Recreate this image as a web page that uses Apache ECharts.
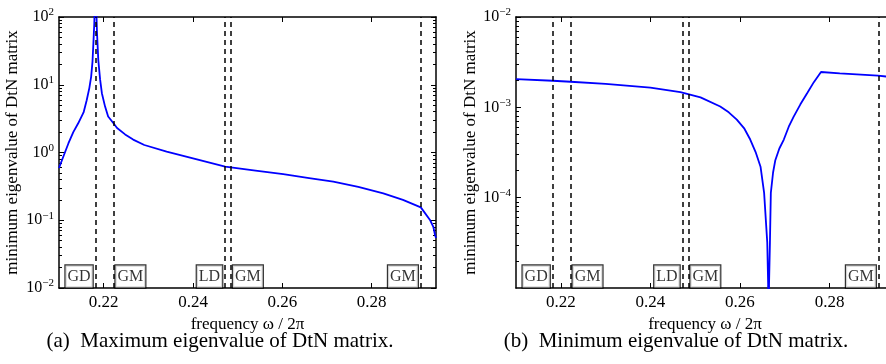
<!DOCTYPE html>
<html lang="en">
<head>
    <meta charset="UTF-8">
    <title>DtN matrix eigenvalues</title>
    <script src="https://cdn.jsdelivr.net/npm/echarts@6/dist/echarts.min.js"></script>
    <style>
        body { margin: 0; background: #fff; }
        #chart { width: 886px; height: 364px; }
    </style>
</head>
<body>
<div id="chart"></div>
<script>
    // (a) maximum eigenvalue
    var freqMax = [0.2100, 0.2110, 0.2121, 0.2132, 0.2143, 0.2155, 0.2162, 0.2168, 0.2172, 0.2175, 0.2177, 0.2179,
        0.21815, 0.2185, 0.2188, 0.2192, 0.2196, 0.2203, 0.2210, 0.2222, 0.2230, 0.2248, 0.2266, 0.2291, 0.2341, 0.2400,
        0.2472, 0.2540, 0.2602, 0.2660, 0.2714, 0.2770, 0.2826, 0.2870, 0.2910, 0.2931, 0.2938, 0.2942, 0.2944];
    var eigMax = [0.59, 0.88, 1.36, 2.0, 2.7, 3.9, 5.9, 9.0, 13.2, 22, 41, 80,
        400, 60, 23, 12, 7.5, 4.8, 3.4, 2.7, 2.3, 1.85, 1.55, 1.29, 1.03, 0.82,
        0.617, 0.54, 0.478, 0.42, 0.371, 0.31, 0.25, 0.20, 0.155, 0.10, 0.08, 0.06, 0.055];

    // (b) minimum eigenvalue
    var freqMin = [0.2100, 0.2182, 0.2222, 0.2300, 0.2400, 0.2467, 0.2512, 0.2556, 0.2575, 0.2593, 0.2610, 0.2623,
        0.2635, 0.2646, 0.2654, 0.2661, 0.2663, 0.2664, 0.2665, 0.2667, 0.2669, 0.2674, 0.2679, 0.2688, 0.2698,
        0.2709, 0.2720, 0.2735, 0.2750, 0.2765, 0.2781, 0.2823, 0.2908, 0.2945];
    var eigMin = [2.05e-3, 1.97e-3, 1.92e-3, 1.82e-3, 1.65e-3, 1.47e-3, 1.29e-3, 1.02e-3, 8.8e-4, 7.3e-4, 5.8e-4, 4.4e-4,
        3.2e-4, 2.2e-4, 1.13e-4, 3.2e-5, 1.1e-5, 1e-8, 1.1e-5, 3.2e-5, 1.13e-4, 1.9e-4, 2.6e-4, 3.5e-4, 4.4e-4,
        6.1e-4, 7.9e-4, 1.08e-3, 1.43e-3, 1.9e-3, 2.46e-3, 2.38e-3, 2.24e-3, 2.15e-3];

    // mode boundaries (dashed lines) and their labels
    var modeFreqs = [0.2182, 0.2222, 0.2472, 0.2485, 0.2910];
    var modeLabels = ['GD', 'GM', 'LD', 'GM', 'GM'];
    var modeSides = ['left', 'right', 'left', 'right', 'left'];

    var xTicks = [0.22, 0.24, 0.26, 0.28];
    var xRange = [0.21, 0.2944];
    var yRangeMax = [1e-2, 1e2];
    var yRangeMin = [1e-5, 1e-2];

    var captions = ['(a)  Maximum eigenvalue of DtN matrix.', '(b)  Minimum eigenvalue of DtN matrix.'];
    var xName = 'frequency \u03c9 / 2\u03c0';
    var yName = 'minimum eigenvalue of DtN matrix';

    var FONT = 'Liberation Serif';
    var chart = echarts.init(document.getElementById('chart'));

    function zip(xs, ys) {
        return xs.map(function (x, i) { return [x, ys[i]]; });
    }

    // log10 of 2..9 x 10^k inside the range, for the small log ticks
    function minorLogValues(range) {
        var out = [];
        for (var e = Math.round(Math.log10(range[0])); e < Math.round(Math.log10(range[1])); e++) {
            for (var m = 2; m <= 9; m++) out.push(e + Math.log10(m));
        }
        return out;
    }

    function powLabel(v) {
        var e = Math.round(Math.log10(v));
        return '{b|10}{s|' + String(e).replace('-', '\u2212') + '}';
    }

    var richPow = {
        b: { fontFamily: FONT, fontSize: 16, color: '#000' },
        s: { fontFamily: FONT, fontSize: 11, color: '#000', padding: [0, 0, 9, 0] }
    };

    function xAxes(gridIndex) {
        return [{
            type: 'value', gridIndex: gridIndex, position: 'bottom',
            min: xRange[0], max: xRange[1],
            name: xName, nameLocation: 'middle', nameGap: 21,
            nameTextStyle: { fontFamily: FONT, fontSize: 17, color: '#000' },
            axisLine: { onZero: false, lineStyle: { color: '#000', width: 1.5 } },
            axisTick: { inside: true, length: 5, customValues: xTicks, lineStyle: { color: '#000' } },
            axisLabel: {
                customValues: xTicks, margin: 6, color: '#000', fontFamily: FONT, fontSize: 17,
                formatter: function (v) { return v.toFixed(2); }
            },
            splitLine: { show: false }
        }, {
            type: 'value', gridIndex: gridIndex, position: 'top',
            min: xRange[0], max: xRange[1],
            axisLine: { onZero: false, lineStyle: { color: '#000', width: 1.5 } },
            axisTick: { inside: true, length: 5, customValues: xTicks, lineStyle: { color: '#000' } },
            axisLabel: { show: false },
            splitLine: { show: false }
        }];
    }

    function yAxes(gridIndex, range, nameGap) {
        var base = {
            type: 'log', logBase: 10, gridIndex: gridIndex,
            min: range[0], max: range[1],
            splitLine: { show: false }
        };
        var minor = minorLogValues(range);
        // minor ticks on a plain value axis holding log10 of the range
        var minorBase = {
            type: 'value', gridIndex: gridIndex,
            min: Math.log10(range[0]), max: Math.log10(range[1]),
            axisLine: { show: false, onZero: false },
            axisTick: { show: true, inside: true, length: 3, customValues: minor, lineStyle: { color: '#000', width: 1 } },
            axisLabel: { show: true, customValues: minor, formatter: function () { return ''; } },
            splitLine: { show: false }
        };
        return [
            Object.assign({}, base, {
                position: 'left',
                name: yName, nameLocation: 'middle', nameGap: nameGap,
                nameTextStyle: { fontFamily: FONT, fontSize: 17, color: '#000' },
                axisLine: { onZero: false, lineStyle: { color: '#000', width: 1.5 } },
                axisTick: { inside: true, length: 5, lineStyle: { color: '#000' } },
                axisLabel: {
                    margin: 5, formatter: powLabel, rich: richPow,
                    showMinLabel: gridIndex === 0
                }
            }),
            Object.assign({}, base, {
                position: 'right',
                axisLine: { onZero: false, lineStyle: { color: '#000', width: 1.5 } },
                axisTick: { inside: true, length: 5, lineStyle: { color: '#000' } },
                axisLabel: { show: false }
            }),
            Object.assign({}, minorBase, { position: 'left', offset: 0 }),
            Object.assign({}, minorBase, { position: 'right', offset: 0 })
        ];
    }

    function curveSeries(xIdx, yIdx, data) {
        return {
            type: 'line', xAxisIndex: xIdx, yAxisIndex: yIdx,
            data: data, showSymbol: false, smooth: false, clip: true,
            lineStyle: { color: '#0000ff', width: 1.8 },
            markLine: {
                silent: true, symbol: ['none', 'none'], precision: 5,
                label: { show: false },
                lineStyle: { type: [5, 4], color: '#000', width: 1.5 },
                data: modeFreqs.map(function (f) { return { xAxis: f }; })
            }
        };
    }

    function boxSeries(xIdx, yIdx, yBottom) {
        return {
            type: 'scatter', xAxisIndex: xIdx, yAxisIndex: yIdx,
            symbolSize: 0, silent: true, z: 5,
            data: modeFreqs.map(function (f, i) {
                return {
                    value: [f, yBottom], name: modeLabels[i],
                    label: {
                        show: true, position: modeSides[i], distance: modeSides[i] === 'left' ? 3 : 2,
                        offset: [0, -11.5], formatter: '{b}',
                        fontFamily: FONT, fontSize: 16, color: '#000', lineHeight: 18,
                        backgroundColor: '#fff', borderColor: '#000', borderWidth: 1.2,
                        padding: [3, 2, 1, 2]
                    }
                };
            })
        };
    }

    chart.setOption({
        animation: false,
        grid: [
            { left: 59, top: 17, width: 377, height: 271, outerBoundsMode: 'none' },
            { left: 516, top: 17, width: 378, height: 271, outerBoundsMode: 'none' }
        ],
        xAxis: xAxes(0).concat(xAxes(1)),
        yAxis: yAxes(0, yRangeMax, 38).concat(yAxes(1, yRangeMin, 36)),
        graphic: [
            { type: 'text', x: 220, y: 341, style: { text: captions[0], textAlign: 'center', textVerticalAlign: 'middle', font: '21px "Liberation Serif"', fill: '#000' } },
            { type: 'text', x: 676, y: 341, style: { text: captions[1], textAlign: 'center', textVerticalAlign: 'middle', font: '21px "Liberation Serif"', fill: '#000' } }
        ],
        series: [
            curveSeries(0, 0, zip(freqMax, eigMax)),
            boxSeries(0, 0, yRangeMax[0]),
            curveSeries(2, 4, zip(freqMin, eigMin)),
            boxSeries(2, 4, yRangeMin[0])
        ]
    });
</script>
</body>
</html>
